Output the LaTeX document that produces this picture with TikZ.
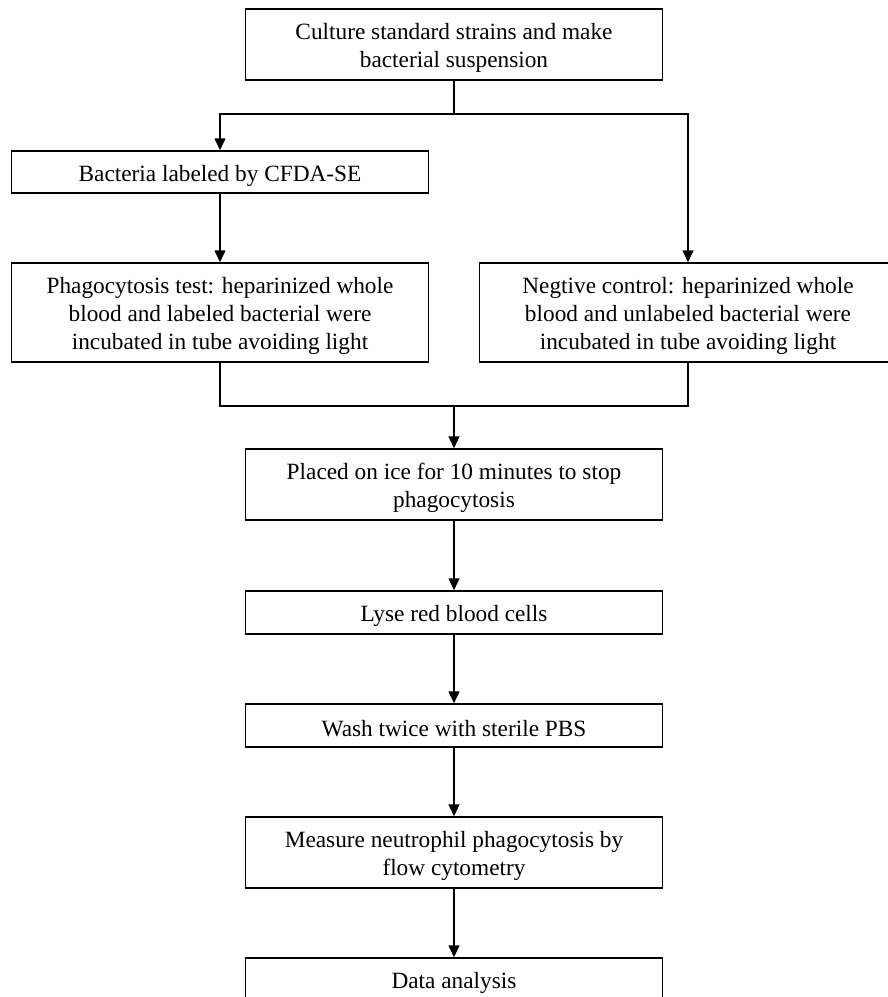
\documentclass[tikz,border=0pt]{standalone}
\usepackage{fontspec}
\setmainfont{Liberation Serif}
\usetikzlibrary{arrows.meta}
\begin{document}
\begin{tikzpicture}[x=1pt,y=-1pt,
  wbox/.style={draw=black,line width=1.5pt,inner sep=0pt,minimum width=417pt},
  txt/.style={align=center,inner sep=0pt,yshift=-3.5pt,
    font=\fontsize{23.3}{28}\selectfont},
  arr/.style={line width=1.5pt,-{Triangle[length=12pt,width=11pt]}},
  ln/.style={line width=1.5pt}]
\useasboundingbox (0,0) rectangle (888,997);
\clip (0,0) rectangle (888,997);
\node[wbox,minimum height=71pt] (top) at (454,44.5) {};
\node[txt] (topT) at (top.center) {Culture standard strains and make\\bacterial suspension};
\node[wbox,minimum height=42pt] (bact) at (220,172) {};
\node[txt] (bactT) at (bact.center) {Bacteria labeled by CFDA-SE};
\node[wbox,minimum height=99pt] (phago) at (220,312.5) {};
\node[txt] (phagoT) at (phago.center) {Phagocytosis test: heparinized whole\\blood and labeled bacterial were\\incubated in tube avoiding light};
\node[wbox,minimum height=99pt] (neg) at (688,312.5) {};
\node[txt] (negT) at (neg.center) {Negtive control: heparinized whole\\blood and unlabeled bacterial were\\incubated in tube avoiding light};
\node[wbox,minimum height=71pt] (placed) at (454,484.5) {};
\node[txt] (placedT) at (placed.center) {Placed on ice for 10 minutes to stop\\phagocytosis};
\node[wbox,minimum height=43pt] (lyse) at (454,612.5) {};
\node[txt] (lyseT) at (lyse.center) {Lyse red blood cells};
\node[wbox,minimum height=43pt] (wash) at (454,725.5) {};
\node[txt] (washT) at (wash.center) {Wash twice with sterile PBS};
\node[wbox,minimum height=71pt] (meas) at (454,852.5) {};
\node[txt] (measT) at (meas.center) {Measure neutrophil phagocytosis by\\flow cytometry};
\node[wbox,minimum height=43pt] (data) at (454,979.5) {};
\node[txt] (dataT) at (data.center) {Data analysis};
\coordinate (j1) at (454,114);
\coordinate (j2) at (454,406);
\draw[ln] (top.south) -- (j1);
\draw[arr] (j1) -| (bact.north);
\draw[arr] (j1) -| (neg.north);
\draw[arr] (bact.south) -- (phago.north);
\draw[ln] (phago.south) |- (j2) -| (neg.south);
\draw[arr] (j2) -- (placed.north);
\draw[arr] (placed.south) -- (lyse.north);
\draw[arr] (lyse.south) -- (wash.north);
\draw[arr] (wash.south) -- (meas.north);
\draw[arr] (meas.south) -- (data.north);
\end{tikzpicture}
\end{document}
